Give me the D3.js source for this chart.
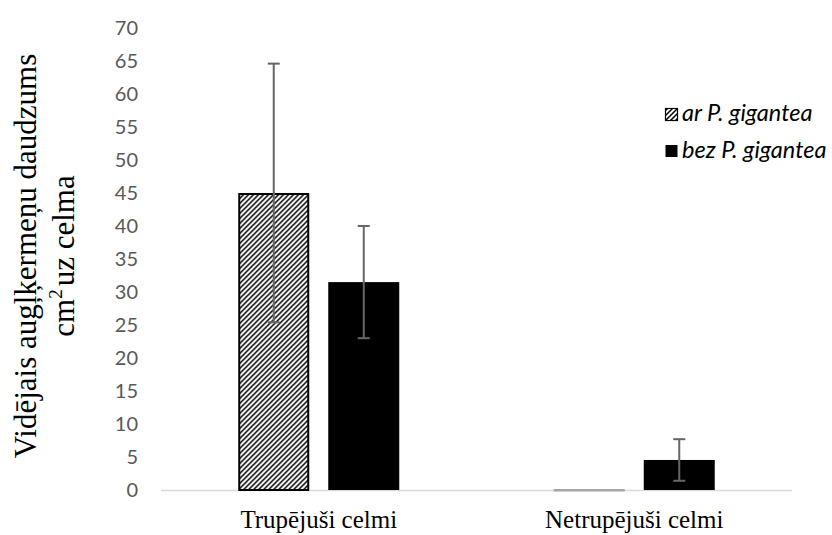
<!DOCTYPE html>
<html>
<head>
<meta charset="utf-8">
<script src="https://cdn.jsdelivr.net/npm/d3@7"></script>
<style>
  html, body { margin: 0; padding: 0; background: #fff; }
  svg { display: block; }
</style>
</head>
<body>
<svg id="chart" width="832" height="535"></svg>
<script>
// ---- data ----
const categories = ["Trupējuši celmi", "Netrupējuši celmi"];
const seriesNames = ["ar P. gigantea", "bez P. gigantea"];
const arValues = [45.0, 0.1];
const bezValues = [31.5, 4.55];
const arErrors = [19.6, 0];
const bezErrors = [8.5, 3.15];
const yTicks = [0, 5, 10, 15, 20, 25, 30, 35, 40, 45, 50, 55, 60, 65, 70];
const yTitleLines = ["Vidējais augļķermeņu daudzums", "cm", "2", "uz celma"];

const SERIF = "'Liberation Serif', 'Times New Roman', serif";
const SANS = "Lato, Carlito, 'Noto Sans', sans-serif";

const svg = d3.select("#chart");
const defs = svg.append("defs");
const pat = defs.append("pattern")
  .attr("id", "hatch").attr("patternUnits", "userSpaceOnUse")
  .attr("width", 5).attr("height", 5);
pat.append("rect").attr("width", 5).attr("height", 5).attr("fill", "#fff");
pat.append("path").attr("d", "M-1,1 l2,-2 M0,5 l5,-5 M4,6 l2,-2")
  .attr("stroke", "#000").attr("stroke-width", 1.5);

const plotLeft = 161, plotRight = 792, plotTop = 28, plotBottom = 490;
const groupWidth = 161, barGap = 19;

const x0 = d3.scaleBand().domain(categories).range([plotLeft, plotRight]);
const x1 = d3.scaleBand().domain(seriesNames).range([0, groupWidth])
  .paddingInner(barGap / ((groupWidth + barGap) / 2)).paddingOuter(0);
const y = d3.scaleLinear().domain([0, 70]).range([plotBottom, plotTop]);

const data = categories.map((c, i) => ({
  cat: c,
  bars: [
    { s: seriesNames[0], v: arValues[i], e: arErrors[i] },
    { s: seriesNames[1], v: bezValues[i], e: bezErrors[i] }
  ]
}));

// y tick labels
svg.append("g").selectAll("text").data(yTicks).join("text")
  .attr("x", 138).attr("y", d => y(d)).attr("dy", "0.36em")
  .attr("text-anchor", "end")
  .attr("font-family", SANS)
  .attr("font-size", 20).attr("fill", "#595959")
  .text(d => d);

// x axis line
svg.append("line").attr("x1", plotLeft).attr("x2", plotRight)
  .attr("y1", y(0) + 0.5).attr("y2", y(0) + 0.5)
  .attr("stroke", "#d9d9d9").attr("stroke-width", 1.3);

// bars
const groups = svg.append("g").selectAll("g").data(data).join("g")
  .attr("transform", d => `translate(${x0(d.cat) + (x0.bandwidth() - groupWidth) / 2},0)`);

const isAr = d => d.s === seriesNames[0];
const tiny = d => (y(0) - y(d.v)) < 2;
groups.selectAll("rect").data(d => d.bars).join("rect")
  .attr("x", d => x1(d.s) + (isAr(d) ? 1 : 0))
  .attr("y", d => tiny(d) ? y(0) : y(d.v) + (isAr(d) ? 1 : 0))
  .attr("width", d => x1.bandwidth() - (isAr(d) ? 2 : 0))
  .attr("height", d => tiny(d) ? 0.5 : Math.max(0, y(0) - y(d.v) - (isAr(d) ? 1 : 0)))
  .attr("fill", d => isAr(d) ? "url(#hatch)" : "#000")
  .attr("stroke", d => isAr(d) ? (tiny(d) ? "#a6a6a6" : "#000") : "none")
  .attr("stroke-width", 2);

// error bars
const eb = groups.selectAll("g.err").data(d => d.bars.filter(b => b.e > 0)).join("g").attr("class", "err");
eb.append("line")
  .attr("x1", d => x1(d.s) + x1.bandwidth() / 2).attr("x2", d => x1(d.s) + x1.bandwidth() / 2)
  .attr("y1", d => y(d.v + d.e)).attr("y2", d => y(d.v - d.e))
  .attr("stroke", "#666").attr("stroke-width", 2);
eb.selectAll("line.cap").data(d => [[d, d.v + d.e], [d, d.v - d.e]]).join("line").attr("class", "cap")
  .attr("x1", d => x1(d[0].s) + x1.bandwidth() / 2 - 6).attr("x2", d => x1(d[0].s) + x1.bandwidth() / 2 + 6)
  .attr("y1", d => y(d[1])).attr("y2", d => y(d[1]))
  .attr("stroke", "#666").attr("stroke-width", 2);

// x category labels
svg.append("g").selectAll("text").data(categories).join("text")
  .attr("x", d => x0(d) + x0.bandwidth() / 2).attr("y", 528)
  .attr("text-anchor", "middle")
  .attr("font-family", SERIF)
  .attr("font-size", 25).attr("fill", "#000")
  .text(d => d);

// y title
const yt = svg.append("g").attr("transform", "translate(0,256) rotate(-90)");
yt.append("text").attr("x", 0).attr("y", 36).attr("text-anchor", "middle")
  .attr("font-family", SERIF)
  .attr("font-size", 31).attr("fill", "#000").text(yTitleLines[0]);
const t2 = yt.append("text").attr("x", 0).attr("y", 74).attr("text-anchor", "middle")
  .attr("font-family", SERIF)
  .attr("font-size", 31).attr("fill", "#000");
t2.append("tspan").text(yTitleLines[1]);
t2.append("tspan").attr("font-size", 19).attr("dy", -12).text(yTitleLines[2]);
t2.append("tspan").attr("dy", 12).attr("dx", 3).text(yTitleLines[3]);

// legend
const leg = svg.append("g").selectAll("g").data(seriesNames).join("g")
  .attr("transform", (d, i) => `translate(665,${121 + i * 36.5})`);
leg.append("rect").attr("x", 0.5).attr("y", -12.5).attr("width", 12).attr("height", 12)
  .attr("fill", (d, i) => i === 0 ? "url(#hatch)" : "#000")
  .attr("stroke", "#000").attr("stroke-width", (d, i) => i === 0 ? 1.2 : 0);
leg.append("text").attr("x", 17).attr("y", 0)
  .attr("font-family", SANS).attr("font-style", "italic")
  .attr("font-size", 23.5).attr("fill", "#000")
  .text(d => d);
</script>
</body>
</html>
